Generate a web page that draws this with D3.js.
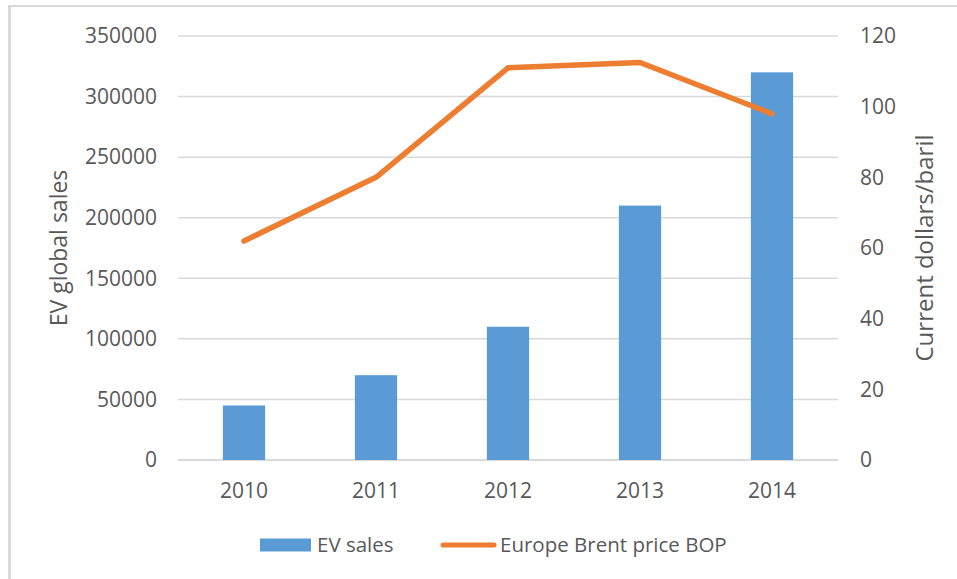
<!DOCTYPE html>
<html>
<head>
<meta charset="utf-8">
<script src="https://cdn.jsdelivr.net/npm/d3@7"></script>
<style>
  body { margin: 0; background: #fff; }
  svg { display: block; }
</style>
</head>
<body>
<script>
// data
const years = ["2010", "2011", "2012", "2013", "2014"];
const evSales = [45000, 70000, 110000, 210000, 320000];
const brentPrice = [62, 80, 111, 112.5, 98];
const leftTicks = [0, 50000, 100000, 150000, 200000, 250000, 300000, 350000];
const rightTicks = [0, 20, 40, 60, 80, 100, 120];

const W = 957, H = 579;
const plot = { left: 178, right: 838, top: 36, bottom: 460 };
const textColor = "#595959";
const font = "'Open Sans', 'Noto Sans', sans-serif";

const svg = d3.select("body").append("svg")
    .attr("width", W)
    .attr("height", H)
    .style("font-family", font);

// outer frame (only left and top edges are visible)
svg.append("line")
    .attr("x1", 9.5).attr("x2", 9.5).attr("y1", 5).attr("y2", H)
    .attr("stroke", "#d9d9d9").attr("stroke-width", 3);
svg.append("line")
    .attr("x1", 8).attr("x2", W).attr("y1", 6).attr("y2", 6)
    .attr("stroke", "#d9d9d9").attr("stroke-width", 2);

// scales
const x = d3.scaleBand()
    .domain(years)
    .range([plot.left, plot.right])
    .paddingInner(0.68)
    .paddingOuter(0.34);

const yLeft = d3.scaleLinear()
    .domain([0, 350000])
    .range([plot.bottom, plot.top]);

const yRight = d3.scaleLinear()
    .domain([0, 120])
    .range([plot.bottom, plot.top]);

// gridlines
svg.append("g")
    .selectAll("line")
    .data(leftTicks)
    .enter().append("line")
    .attr("x1", plot.left)
    .attr("x2", plot.right)
    .attr("y1", d => yLeft(d))
    .attr("y2", d => yLeft(d))
    .attr("stroke", "#d9d9d9")
    .attr("stroke-width", d => d === 0 ? 2 : 1.5);

// left axis
const leftAxis = svg.append("g")
    .attr("transform", "translate(" + plot.left + ",0)")
    .call(d3.axisLeft(yLeft).tickValues(leftTicks).tickSize(0).tickPadding(21).tickFormat(d3.format("d")));
leftAxis.select(".domain").remove();
leftAxis.selectAll("text")
    .attr("fill", textColor)
    .style("font-size", "21px")
    .style("font-family", font);

// right axis
const rightAxis = svg.append("g")
    .attr("transform", "translate(" + plot.right + ",0)")
    .call(d3.axisRight(yRight).tickValues(rightTicks).tickSize(0).tickPadding(22));
rightAxis.select(".domain").remove();
rightAxis.selectAll("text")
    .attr("fill", textColor)
    .style("font-size", "21px")
    .style("font-family", font);

// bottom axis
const bottomAxis = svg.append("g")
    .attr("transform", "translate(0," + plot.bottom + ")")
    .call(d3.axisBottom(x).tickSize(0).tickPadding(23));
bottomAxis.select(".domain").remove();
bottomAxis.selectAll("text")
    .attr("fill", textColor)
    .style("font-size", "21px")
    .style("font-family", font);

// bars
svg.selectAll(".bar")
    .data(years.map((y, i) => ({ year: y, value: evSales[i] })))
    .enter().append("rect")
    .attr("class", "bar")
    .attr("x", d => x(d.year))
    .attr("width", x.bandwidth())
    .attr("y", d => yLeft(d.value))
    .attr("height", d => plot.bottom - yLeft(d.value))
    .attr("fill", "#5b9bd5");

// price line
const line = d3.line()
    .x((d, i) => x(years[i]) + x.bandwidth() / 2)
    .y(d => yRight(d));

svg.append("path")
    .datum(brentPrice)
    .attr("d", line)
    .attr("fill", "none")
    .attr("stroke", "#ed7d31")
    .attr("stroke-width", 5.5)
    .attr("stroke-linejoin", "round")
    .attr("stroke-linecap", "round");

// axis titles
svg.append("text")
    .attr("transform", "translate(59," + ((plot.top + plot.bottom) / 2) + ") rotate(-90)")
    .attr("text-anchor", "middle")
    .attr("dy", "0.35em")
    .attr("fill", textColor)
    .style("font-size", "23px")
    .text("EV global sales");

svg.append("text")
    .attr("transform", "translate(925," + ((plot.top + plot.bottom) / 2) + ") rotate(-90)")
    .attr("text-anchor", "middle")
    .attr("dy", "0.35em")
    .attr("fill", textColor)
    .style("font-size", "24px")
    .text("Current dollars/baril");

// legend
const legend = svg.append("g").attr("transform", "translate(0,545)");

legend.append("rect")
    .attr("x", 260).attr("y", -6.5)
    .attr("width", 51).attr("height", 13)
    .attr("fill", "#5b9bd5");
legend.append("text")
    .attr("x", 317).attr("dy", "0.35em")
    .attr("fill", textColor)
    .style("font-size", "20.5px")
    .text("EV sales");

legend.append("line")
    .attr("x1", 443).attr("x2", 494)
    .attr("y1", 0).attr("y2", 0)
    .attr("stroke", "#ed7d31")
    .attr("stroke-width", 5)
    .attr("stroke-linecap", "round");
legend.append("text")
    .attr("x", 500).attr("dy", "0.35em")
    .attr("fill", textColor)
    .style("font-size", "20.5px")
    .text("Europe Brent price BOP");
</script>
</body>
</html>
